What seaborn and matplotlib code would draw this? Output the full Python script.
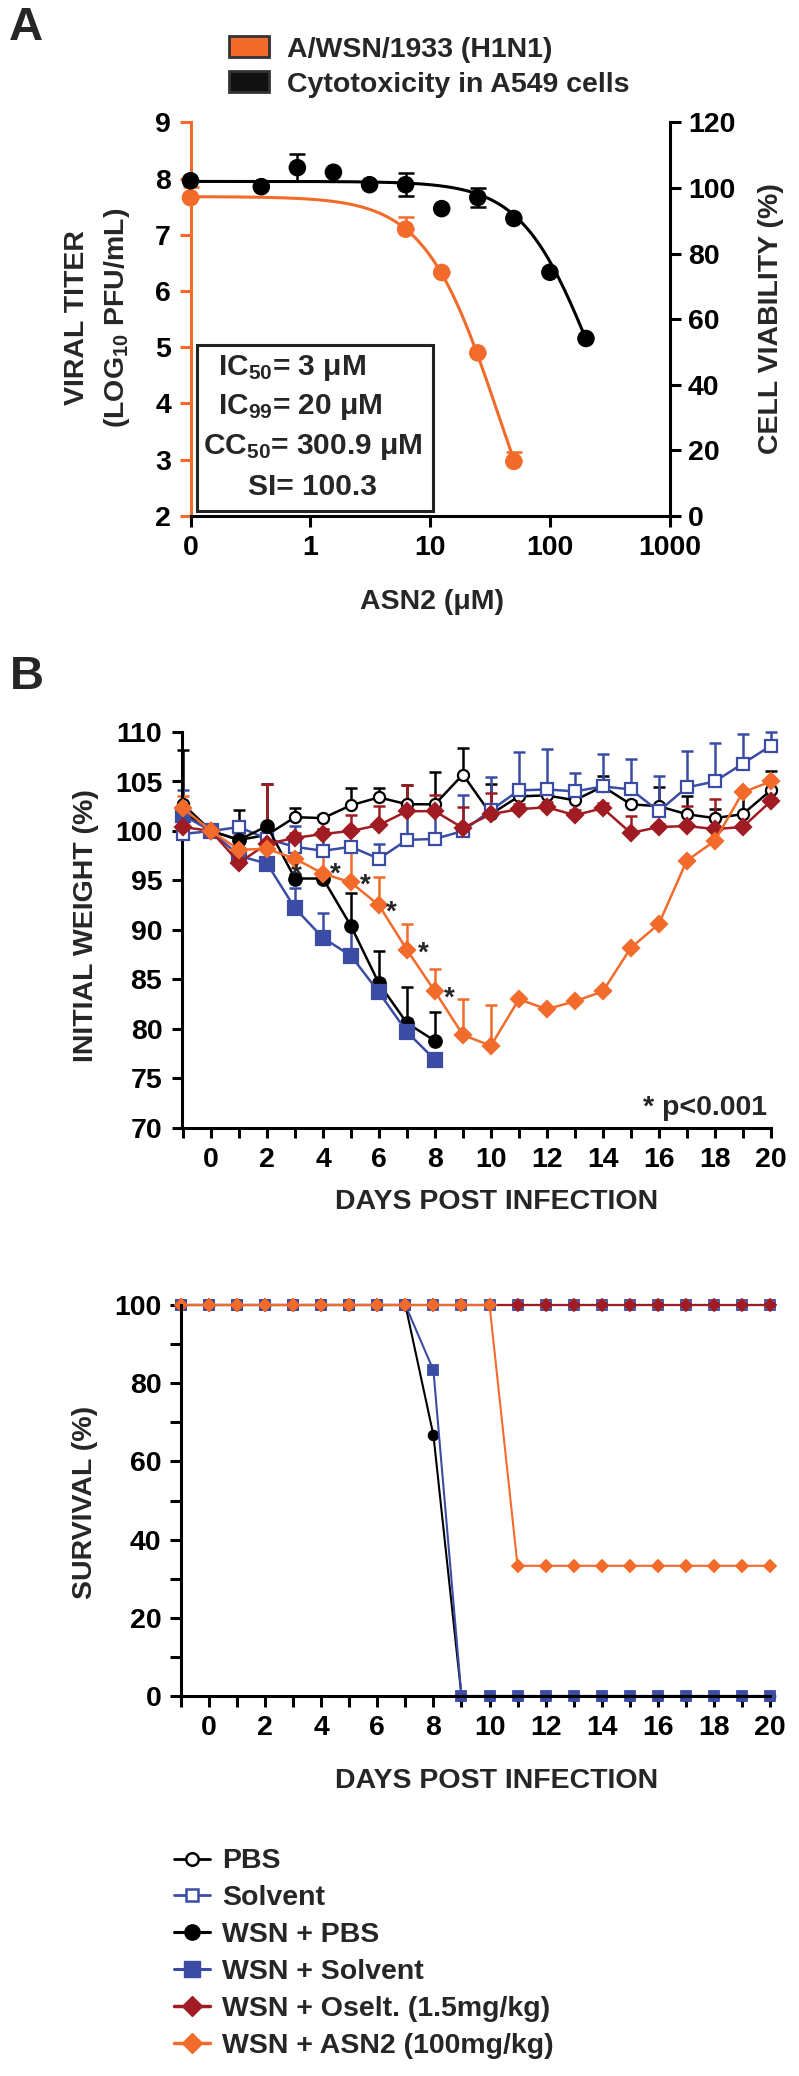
import matplotlib
matplotlib.use("Agg")
import matplotlib.pyplot as plt
import seaborn as sns
import numpy as np
from matplotlib.lines import Line2D
from matplotlib.patches import Patch, Rectangle
from matplotlib.ticker import NullLocator

# ---------------- data: panel A (dose response) ----------------
conc_cyto = [0, 0.39, 0.78, 1.56, 3.125, 6.25, 12.5, 25, 50, 100, 200]
viability = [102.2, 100.4, 106.2, 104.8, 101.0, 101.0, 93.7, 97.1, 90.7, 74.3, 54.1]
viability_err = [np.nan, np.nan, 4.2, np.nan, np.nan, 3.5, np.nan, 3.0, np.nan, np.nan, np.nan]

conc_virus = [0, 6.25, 12.5, 25, 50]
titer = [7.66, 7.10, 6.33, 4.90, 2.97]
titer_err = [0.19, 0.22, np.nan, np.nan, 0.16]

# fitted dose-response parameters (top, EC, hill slope)
cyto_fit = (102.0, 216.0, 1.5)
virus_fit = (7.68, 36.6, 1.42)

stats_lines = ["IC$_{50}$= 3 μM", "IC$_{99}$= 20 μM", "CC$_{50}$= 300.9 μM", "SI= 100.3"]

# ---------------- data: panel B (weight) ----------------
days_full = [-1, 0, 1, 2, 3, 4, 5, 6, 7, 8, 9, 10, 11, 12, 13, 14, 15, 16, 17, 18, 19, 20]
days_short = [-1, 0, 1, 2, 3, 4, 5, 6, 7, 8]

pbs_w = [102.7, 100, 99.1, 99.6, 101.4, 101.3, 102.6, 103.4, 102.7, 102.7, 105.7,
         101.7, 103.5, 103.6, 103.1, 104.5, 102.7, 102.5, 101.7, 101.3, 101.7, 104.1]
pbs_err = [5.5, 0, 3.0, 0.5, 0.9, 0.3, 1.7, 0.9, 1.9, 3.3, 2.7,
           3.0, 0.8, 0.5, 0.5, 1.1, 0.3, 1.9, 1.8, 0.9, 2.4, 2.0]

solv_w = [99.7, 100, 100.4, 99.2, 98.4, 98.0, 98.4, 97.2, 99.1, 99.2, 100.0,
          102.1, 104.1, 104.2, 104.0, 104.5, 104.2, 102.0, 104.4, 105.0, 106.8, 108.6]
solv_err = [4.4, 0, 0.5, 0.5, 2.1, 2.2, 0.3, 1.5, 3.5, 3.5, 3.6,
            3.4, 3.9, 4.1, 1.9, 3.3, 3.1, 3.6, 3.7, 3.9, 3.0, 1.4]

wsn_pbs_w = [102.0, 100, 99.1, 100.5, 95.2, 95.2, 90.4, 84.6, 80.6, 78.8]
wsn_pbs_err = [0.5, 0, 0.5, 4.2, 0.5, 0.5, 3.3, 3.3, 3.6, 2.9]

wsn_solv_w = [101.6, 100, 97.5, 96.7, 92.2, 89.2, 87.4, 83.7, 79.7, 76.9]
wsn_solv_err = [0.5, 0, 0.3, 0.3, 2.0, 2.5, 3.1, 1.4, 1.3, 0.3]

oselt_w = [100.4, 100, 96.8, 98.7, 99.3, 99.7, 100.0, 100.6, 102.0, 102.0, 100.3,
           101.7, 102.2, 102.4, 101.6, 102.3, 99.8, 100.4, 100.5, 100.2, 100.4, 103.0]
oselt_err = [0.3, 0, 0.3, 6.0, 0.5, 0.5, 1.6, 1.9, 2.6, 1.6, 2.1,
             2.1, 0.5, 0.5, 0.5, 0.5, 1.7, 0.3, 2.0, 3.0, 0.3, 0.3]

asn2_w = [102.3, 100, 98.1, 98.2, 97.2, 95.7, 94.8, 92.5, 88.0, 83.8, 79.4,
          78.3, 83.0, 82.0, 82.8, 83.8, 88.2, 90.6, 97.0, 99.0, 103.9, 105.0]
asn2_err = [1.2, 0, 1.5, 1.2, 2.3, 2.2, 3.1, 2.9, 2.6, 2.3, 3.6,
            4.1, 0, 0, 0, 0, 0, 0, 0, 0, 0, 0]

star_x = [3.05, 4.43, 5.5, 6.45, 7.6, 8.5]
star_y = [96.3, 96.4, 95.3, 92.6, 88.5, 83.9]

# ---------------- data: panel B (survival) ----------------
pbs_s = [100, 100, 100, 100, 100, 100, 100, 100, 100, 100, 100,
         100, 100, 100, 100, 100, 100, 100, 100, 100, 100, 100]
solv_s = [100, 100, 100, 100, 100, 100, 100, 100, 100, 100, 100,
          100, 100, 100, 100, 100, 100, 100, 100, 100, 100, 100]
wsn_pbs_s = [100, 100, 100, 100, 100, 100, 100, 100, 100, 66.7, 0,
             0, 0, 0, 0, 0, 0, 0, 0, 0, 0, 0]
wsn_solv_s = [100, 100, 100, 100, 100, 100, 100, 100, 100, 83.3, 0,
              0, 0, 0, 0, 0, 0, 0, 0, 0, 0, 0]
oselt_s = [100, 100, 100, 100, 100, 100, 100, 100, 100, 100, 100,
           100, 100, 100, 100, 100, 100, 100, 100, 100, 100, 100]
asn2_s = [100, 100, 100, 100, 100, 100, 100, 100, 100, 100, 100,
          100, 33.3, 33.3, 33.3, 33.3, 33.3, 33.3, 33.3, 33.3, 33.3, 33.3]

group_labels = ["PBS", "Solvent", "WSN + PBS", "WSN + Solvent",
                "WSN + Oselt. (1.5mg/kg)", "WSN + ASN2 (100mg/kg)"]

# ---------------- style ----------------
ORANGE = "#F26B2B"
BLUE = "#3B4CA5"
DARKRED = "#A01C22"
BLACK = "#000000"

sns.set_theme(style="ticks")
plt.rcParams['font.family'] = ['Liberation Sans', 'DejaVu Sans']
plt.rcParams['font.weight'] = 'bold'
plt.rcParams['axes.labelweight'] = 'bold'
plt.rcParams['mathtext.fontset'] = 'custom'
plt.rcParams['mathtext.rm'] = 'Liberation Sans:bold'
plt.rcParams['mathtext.default'] = 'rm'

W, H = 799, 2076
fig = plt.figure(figsize=(W / 100, H / 100), dpi=100)


def rect(l, t, r, b):
    return [l / W, 1 - b / H, (r - l) / W, (b - t) / H]


def fpos(x, y):
    return x / W, 1 - y / H


TICK_FS = 20.5
LABEL_FS = 20.5


def style_ticks(ax, length=7, pad=6):
    ax.tick_params(axis='both', which='both', direction='out', length=length, width=2.2,
                   labelsize=TICK_FS, pad=pad, colors='black')


def place_label(axis, x, y):
    # put the centre of an axis label at a pixel position of the figure
    axis.set_label_coords(*fpos(x, y), transform=fig.transFigure)
    axis.label.set_verticalalignment('center')
    axis.label.set_horizontalalignment('center')


# ================= Panel A =================
axA = fig.add_axes(rect(190.5, 122.4, 669.7, 515.9))
axA2 = axA.twinx()
axA.set_zorder(1)
axA2.set_zorder(2)
axA.patch.set_visible(False)
axA2.patch.set_visible(False)

axA.set_xscale('log')
axA.set_xlim(0.1, 1000)
axA.set_ylim(2, 9)
axA2.set_ylim(0, 120)


def at_zero(c):
    # the "0" dose is drawn at the left end of the log axis
    return [0.1 if v == 0 else v for v in c]


def hill(x, top, ec, slope):
    return top / (1 + (x / ec) ** slope)


xc = np.logspace(-1, np.log10(conc_cyto[-1]), 300)
xv = np.logspace(-1, np.log10(conc_virus[-1]), 300)

sns.lineplot(x=xv, y=hill(xv, *virus_fit), ax=axA, color=ORANGE, linewidth=2.2, clip_on=False)
axA.errorbar(at_zero(conc_virus), titer, yerr=[np.zeros(len(titer_err)), titer_err], fmt='none',
             ecolor=ORANGE, elinewidth=1.8, capsize=6, capthick=1.8, clip_on=False)
sns.scatterplot(x=at_zero(conc_virus), y=titer, ax=axA, color=ORANGE, s=160,
                edgecolor='none', clip_on=False, zorder=5)

sns.lineplot(x=xc, y=hill(xc, *cyto_fit), ax=axA2, color=BLACK, linewidth=2.2, clip_on=False)
axA2.errorbar(at_zero(conc_cyto), viability, yerr=viability_err, fmt='none',
              ecolor=BLACK, elinewidth=1.8, capsize=6, capthick=1.8, clip_on=False)
sns.scatterplot(x=at_zero(conc_cyto), y=viability, ax=axA2, color=BLACK, s=160,
                edgecolor='none', clip_on=False, zorder=5)

axA.set_xticks([0.1, 1, 10, 100, 1000])
axA.set_xticklabels(['0', '1', '10', '100', '1000'])
axA.xaxis.set_minor_locator(NullLocator())
axA.set_yticks(range(2, 10))
axA2.set_yticks(range(0, 121, 20))
style_ticks(axA, length=8, pad=6)
style_ticks(axA2, length=8, pad=5)
axA.tick_params(axis='y', colors=ORANGE, labelcolor='black')

for s in ['top', 'right']:
    axA.spines[s].set_visible(False)
for s in ['top', 'left', 'bottom']:
    axA2.spines[s].set_visible(False)
axA.spines['left'].set_color(ORANGE)
for s in ['left', 'bottom']:
    axA.spines[s].set_linewidth(2.2)
axA2.spines['right'].set_linewidth(2.2)
axA2.spines['right'].set_color('black')
axA.spines['bottom'].set_color('black')

axA.set_xlabel("ASN2 (μM)", fontsize=LABEL_FS)
place_label(axA.xaxis, 432, 602)
axA.set_ylabel("VIRAL TITER\n(LOG$_{10}$ PFU/mL)", fontsize=LABEL_FS, linespacing=1.5)
place_label(axA.yaxis, 98, 318)
axA2.set_ylabel("CELL VIABILITY (%)", fontsize=LABEL_FS)
place_label(axA2.yaxis, 771, 319)

# statistics box
bx0, by0 = fpos(197, 511)
bx1, by1 = fpos(433, 345)
fig.add_artist(Rectangle((bx0, by0), bx1 - bx0, by1 - by0, transform=fig.transFigure,
                         facecolor='white', edgecolor='#222222', linewidth=2.2, zorder=6))
for line, xx, yy in zip(stats_lines, [292, 300, 313, 312], [368, 407, 447, 487]):
    fig.text(*fpos(xx, yy), line, ha='center', va='center', fontsize=21.5, zorder=7)

fig.legend(handles=[Patch(facecolor=ORANGE, edgecolor='#333333', linewidth=2),
                    Patch(facecolor='#111111', edgecolor='#333333', linewidth=2)],
           labels=["A/WSN/1933 (H1N1)", "Cytotoxicity in A549 cells"],
           loc='upper left', bbox_to_anchor=fpos(229, 36.5), frameon=False,
           fontsize=LABEL_FS, handlelength=1.4, handleheight=0.75,
           handletextpad=0.65, labelspacing=0.3, borderpad=0, borderaxespad=0)

fig.text(*fpos(26, 28), "A", fontsize=34, ha='center', va='center')
fig.text(*fpos(27, 677), "B", fontsize=34, ha='center', va='center')

# ================= Panel B: weight =================
axW = fig.add_axes(rect(181.7, 732, 770.7, 1128))
weight_series = [
    (days_full, pbs_w, pbs_err, BLACK, 'o', 'white', 8),
    (days_full, solv_w, solv_err, BLUE, 's', 'white', 8),
    (days_short, wsn_pbs_w, wsn_pbs_err, BLACK, 'o', BLACK, 9),
    (days_short, wsn_solv_w, wsn_solv_err, BLUE, 's', BLUE, 9.5),
    (days_full, oselt_w, oselt_err, DARKRED, 'D', DARKRED, 7.8),
    (days_full, asn2_w, asn2_err, ORANGE, 'D', ORANGE, 7.8),
]
for d, w, e, col, mk, face, ms in weight_series:
    axW.errorbar(d, w, yerr=[np.zeros(len(e)), e], fmt='none', ecolor=col, elinewidth=1.8,
                 capsize=4.5, capthick=1.8, clip_on=False, zorder=2)
    sns.lineplot(x=d, y=w, ax=axW, color=col, marker=mk, markersize=ms, markerfacecolor=face,
                 markeredgecolor=col, markeredgewidth=1.6, linewidth=1.8, clip_on=False,
                 zorder=3, legend=False)

for sx, sy in zip(star_x, star_y):
    axW.annotate("*", (sx, sy), xytext=(0, -11), textcoords='offset points',
                 ha='center', va='baseline', fontsize=20)
fig.text(*fpos(767, 1115), "* p<0.001", ha='right', va='baseline', fontsize=20.5)

axW.set_xlim(-1.05, 20)
axW.set_ylim(70, 110)
axW.set_xticks(range(-1, 21))
axW.set_xticklabels([str(v) if v >= 0 and v % 2 == 0 else '' for v in range(-1, 21)])
axW.set_yticks(range(70, 111, 5))
style_ticks(axW, length=7, pad=7)
sns.despine(ax=axW)
for s in ['left', 'bottom']:
    axW.spines[s].set_linewidth(2.2)
    axW.spines[s].set_color('black')
axW.set_xlabel("DAYS POST INFECTION", fontsize=LABEL_FS)
place_label(axW.xaxis, 497, 1202)
axW.set_ylabel("INITIAL WEIGHT (%)", fontsize=LABEL_FS)
place_label(axW.yaxis, 86, 926)

# ================= Panel B: survival =================
axS = fig.add_axes(rect(181, 1305, 770, 1696))
survival_series = [
    (pbs_s, BLACK, 'o', 'white', 6.5),
    (solv_s, BLUE, 's', 'white', 6.5),
    (wsn_pbs_s, BLACK, 'o', BLACK, 7),
    (wsn_solv_s, BLUE, 's', BLUE, 7),
    (oselt_s, DARKRED, 'D', DARKRED, 6),
    (asn2_s, ORANGE, 'D', ORANGE, 6),
]
for s_vals, col, mk, face, ms in survival_series:
    sns.lineplot(x=days_full, y=s_vals, ax=axS, color=col, marker=mk, markersize=ms,
                 markerfacecolor=face, markeredgecolor=col, markeredgewidth=1.3,
                 linewidth=1.5, clip_on=False, legend=False)

axS.set_xlim(-1, 20)
axS.set_ylim(0, 100)
axS.set_xticks(range(-1, 21))
axS.set_xticklabels([str(v) if v >= 0 and v % 2 == 0 else '' for v in range(-1, 21)])
axS.set_yticks(range(0, 101, 20))
axS.set_yticks(range(10, 100, 20), minor=True)
style_ticks(axS, length=8, pad=6)
sns.despine(ax=axS)
for s in ['left', 'bottom']:
    axS.spines[s].set_linewidth(2.2)
    axS.spines[s].set_color('black')
axS.set_xlabel("DAYS POST INFECTION", fontsize=LABEL_FS)
place_label(axS.xaxis, 497, 1781)
axS.set_ylabel("SURVIVAL (%)", fontsize=LABEL_FS)
place_label(axS.yaxis, 85, 1502)

# ================= group legend =================
leg_handles = [
    Line2D([], [], color=BLACK, lw=2, marker='o', markersize=9, markerfacecolor='white', markeredgewidth=1.8),
    Line2D([], [], color=BLUE, lw=2, marker='s', markersize=9, markerfacecolor='white', markeredgewidth=1.8),
    Line2D([], [], color=BLACK, lw=2.2, marker='o', markersize=11, markerfacecolor=BLACK),
    Line2D([], [], color=BLUE, lw=2.2, marker='s', markersize=12, markerfacecolor=BLUE),
    Line2D([], [], color=DARKRED, lw=2.5, marker='D', markersize=10, markerfacecolor=DARKRED),
    Line2D([], [], color=ORANGE, lw=2.5, marker='D', markersize=10, markerfacecolor=ORANGE),
]
fig.legend(handles=leg_handles, labels=group_labels, loc='upper left',
           bbox_to_anchor=fpos(174, 1848.5), frameon=False, fontsize=LABEL_FS,
           handlelength=1.25, handletextpad=0.45, labelspacing=0.38,
           borderpad=0, borderaxespad=0)

fig.savefig("out.png", dpi=100)
